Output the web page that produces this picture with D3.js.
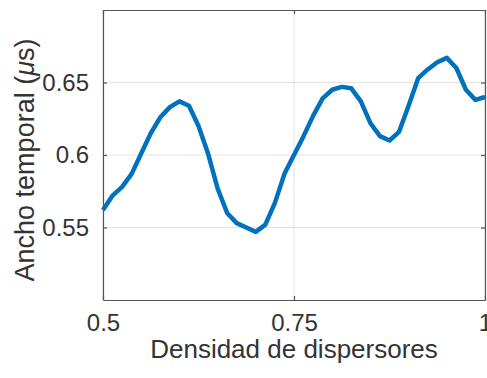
<!DOCTYPE html>
<html>
<head>
<meta charset="utf-8">
<script src="https://cdn.jsdelivr.net/npm/d3@7"></script>
<style>
	body { margin: 0; background: #fff; }
	text { font-family: "Liberation Sans", Arial, sans-serif; fill: #333; }
</style>
</head>
<body>
<div id="chart-area"></div>
<script>

// data
let density = [0.5, 0.5125, 0.525, 0.5375, 0.55, 0.5625, 0.575, 0.5875, 0.6, 0.6125,
	0.625, 0.6375, 0.65, 0.6625, 0.675, 0.6875, 0.7, 0.7125, 0.725, 0.7375,
	0.75, 0.7625, 0.775, 0.7875, 0.8, 0.8125, 0.825, 0.8375, 0.85, 0.8625,
	0.875, 0.8875, 0.9, 0.9125, 0.925, 0.9375, 0.95, 0.9625, 0.975, 0.9875, 1.0];
let width_us = [0.562, 0.572, 0.578, 0.587, 0.601, 0.615, 0.626, 0.633, 0.637, 0.634,
	0.620, 0.601, 0.577, 0.560, 0.553, 0.550, 0.547, 0.552, 0.567, 0.587,
	0.600, 0.613, 0.627, 0.639, 0.645, 0.647, 0.646, 0.637, 0.622, 0.613,
	0.610, 0.616, 0.634, 0.653, 0.659, 0.664, 0.667, 0.660, 0.645, 0.638, 0.640];
let xTicks = [0.5, 0.75, 1];
let xTickLabels = ["0.5", "0.75", "1"];
let yTicks = [0.55, 0.6, 0.65];
let yTickLabels = ["0.55", "0.6", "0.65"];

let data = density.map((d, i) => ({x: d, y: width_us[i]}));

// svg size
let margin = {top: 10, right: 2, bottom: 78, left: 103};
let width = 487 - margin.left - margin.right,
	height = 378 - margin.top - margin.bottom;

let svg = d3.select("#chart-area").append("svg")
	.attr("width", 487)
	.attr("height", 378)
	.append("g")
	.attr("transform", "translate(" + margin.left + "," + margin.top + ")");

// scales
let xScale = d3.scaleLinear()
	.domain([0.5, 1])
	.range([0, width]);

let yScale = d3.scaleLinear()
	.domain([0.5, 0.7])
	.range([height, 0]);

// grid
svg.append("g").selectAll("line.gx").data(xTicks).enter().append("line")
	.attr("x1", d => xScale(d)).attr("x2", d => xScale(d))
	.attr("y1", 0).attr("y2", height)
	.attr("stroke", "#e3e3e3").attr("stroke-width", 1);

svg.append("g").selectAll("line.gy").data(yTicks).enter().append("line")
	.attr("x1", 0).attr("x2", width)
	.attr("y1", d => yScale(d)).attr("y2", d => yScale(d))
	.attr("stroke", "#e3e3e3").attr("stroke-width", 1);

// line
let line = d3.line()
	.x(d => xScale(d.x))
	.y(d => yScale(d.y));

svg.append("path")
	.datum(data)
	.attr("fill", "none")
	.attr("stroke", "#0072BD")
	.attr("stroke-width", 4.5)
	.attr("stroke-linejoin", "round")
	.attr("d", line);

// axes (matlab style, ticks inward, box)
let xAxis = d3.axisBottom(xScale).tickValues(xTicks)
	.tickFormat((d, i) => xTickLabels[i]).tickSizeInner(-4).tickSizeOuter(0).tickPadding(14);
let yAxis = d3.axisLeft(yScale).tickValues(yTicks)
	.tickFormat((d, i) => yTickLabels[i]).tickSizeInner(-4).tickSizeOuter(0).tickPadding(14);

let xg = svg.append("g")
	.attr("transform", `translate(0, ${height})`)
	.call(xAxis);
let yg = svg.append("g").call(yAxis);

svg.append("g").call(d3.axisTop(xScale).tickValues(xTicks).tickFormat("").tickSizeInner(-4).tickSizeOuter(0));
svg.append("g").attr("transform", `translate(${width}, 0)`)
	.call(d3.axisRight(yScale).tickValues(yTicks).tickFormat("").tickSizeInner(-4).tickSizeOuter(0));

svg.selectAll(".domain, .tick line").attr("stroke", "#555").attr("stroke-width", 1.2);
svg.selectAll(".tick text")
	.attr("font-size", 24)
	.attr("font-family", "Liberation Sans, Arial, sans-serif")
	.attr("fill", "#333");
xg.selectAll(".tick text").attr("dy", "0.71em");

// axis labels
svg.append("text")
	.attr("x", width / 2)
	.attr("y", height + 58)
	.attr("text-anchor", "middle")
	.attr("font-size", 26)
	.text("Densidad de dispersores");

let yl = svg.append("text")
	.attr("transform", `translate(${-69}, ${height / 2 + 5}) rotate(-90)`)
	.attr("text-anchor", "middle")
	.attr("font-size", 27);
yl.append("tspan").text("Ancho temporal (");
yl.append("tspan").attr("font-style", "italic").text("\u03bc");
yl.append("tspan").text("s)");

</script>
</body>
</html>
